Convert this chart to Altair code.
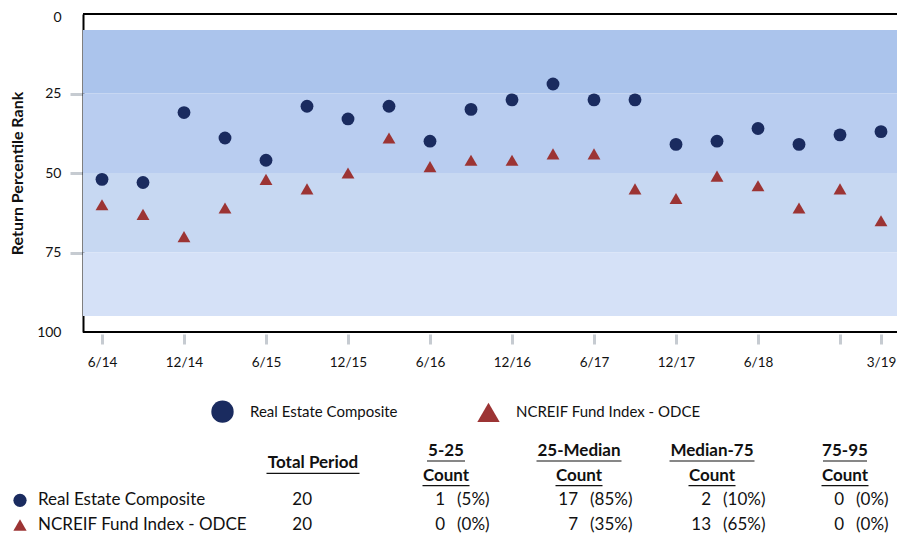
import altair as alt
import pandas as pd

# ---------------- data ----------------
QUARTERS = ["6/14", "9/14", "12/14", "3/15", "6/15", "9/15", "12/15", "3/16", "6/16", "9/16",
            "12/16", "3/17", "6/17", "9/17", "12/17", "3/18", "6/18", "9/18", "12/18", "3/19"]
COMPOSITE = [52, 53, 31, 39, 46, 29, 33, 29, 40, 30, 27, 22, 27, 27, 41, 40, 36, 41, 38, 37]
ODCE = [60, 63, 70, 61, 52, 55, 50, 39, 48, 46, 46, 44, 44, 55, 58, 51, 54, 61, 55, 65]
SERIES = ["Real Estate Composite", "NCREIF Fund Index - ODCE"]

BAND_NAMES = ["5-25", "25-Median", "Median-75", "75-95"]
BAND_LOW = [5, 25, 50, 75]
BAND_HIGH = [25, 50, 75, 95]

TICK_QUARTERS = ["6/14", "12/14", "6/15", "12/15", "6/16", "12/16", "6/17", "12/17", "6/18", "12/18", "3/19"]
UNLABELED_TICK = "12/18"
Y_TICKS = [0, 25, 50, 75, 100]
Y_FRAME = [0, 100]

TABLE_COLUMNS = ["Total Period", "5-25", "25-Median", "Median-75", "75-95"]
TOTALS = [20, 20]
COUNTS = [[1, 17, 2, 0], [0, 7, 13, 0]]
PCTS = [["5%", "85%", "10%", "0%"], ["0%", "35%", "65%", "0%"]]

# ---------------- style / layout ----------------
FONT = "Lato"
SERIES_COLORS = ["#1a2b5f", "#9c3434"]
SERIES_SHAPES = ["circle", "triangle-up"]
BAND_COLORS = ["#abc4ec", "#b9cdf0", "#c7d8f2", "#d5e1f7"]
TICK_GRAY = "#c6cbd1"
TEXT = "#111111"
UNDERLINE_W = {"Total Period": 93, "5-25": 38, "25-Median": 85, "Median-75": 85, "75-95": 44, "Count": 47}

PLOT_W, PLOT_H = 814, 318
X_RANGE = [19, 798]            # first / last quarter inside the plot
TABLE_X_RANGE = [230, 762]     # column centres, relative to the plot origin
TABLE_Y_RANGE = [437, 511]     # header line 1 ... second series row
MARKER_X, NAME_X = -63, -45

# ---------------- plot ----------------
points_df = pd.DataFrame({
    "quarter": QUARTERS * 2,
    "rank": COMPOSITE + ODCE,
    "series": [SERIES[0]] * len(QUARTERS) + [SERIES[1]] * len(QUARTERS),
})
bands_df = pd.DataFrame({"band": BAND_NAMES, "lo": BAND_LOW, "hi": BAND_HIGH})
frame_df = pd.DataFrame({"edge": Y_FRAME})

y_scale = alt.Scale(domain=[0, 100], reverse=True, nice=False, zero=False)
y_axis = alt.Axis(
    values=Y_TICKS, title="Return Percentile Rank", titleFont=FONT, titleFontSize=16,
    titleFontWeight="bold", titleColor=TEXT, titlePadding=11,
    labelFont=FONT, labelFontSize=14, labelColor=TEXT, labelPadding=9,
    labelOffset={"condition": {"test": "datum.value == 0", "value": 3}, "value": 0},
    domain=True, domainColor="#000000", domainWidth=2, grid=False,
    tickSize=13, tickWidth=3, tickColor=TICK_GRAY,
    tickOpacity={"condition": {"test": "datum.value == 0 || datum.value == 100", "value": 0}, "value": 1},
)
x_axis = alt.Axis(
    values=TICK_QUARTERS, title=None,
    labelExpr=f"datum.value == '{UNLABELED_TICK}' ? '' : datum.value",
    labelFont=FONT, labelFontSize=13.5, labelColor=TEXT, labelPadding=11, labelAngle=0,
    domain=False, grid=False, offset=2, tickSize=10, tickWidth=3, tickColor=TICK_GRAY,
)

bands = alt.Chart(bands_df).mark_rect().encode(
    y=alt.Y("lo:Q", scale=y_scale, axis=y_axis),
    y2="hi:Q",
    fill=alt.Fill("band:N", scale=alt.Scale(domain=BAND_NAMES, range=BAND_COLORS), legend=None),
)
frame = alt.Chart(frame_df).mark_rule(color="#000000", strokeWidth=2).encode(
    y=alt.Y("edge:Q", scale=y_scale)
)

legend = alt.Legend(
    title=None, orient="none", legendX=128, legendY=386, direction="horizontal",
    symbolSize=500, symbolStrokeWidth=0, labelFont=FONT, labelFontSize=15, labelColor=TEXT,
    labelOffset=16, columnPadding=79, labelLimit=400,
)
points = alt.Chart(points_df).mark_point(filled=True, opacity=1, size=165).encode(
    x=alt.X("quarter:N", sort=QUARTERS,
            scale=alt.Scale(type="point", domain=QUARTERS, range=X_RANGE, padding=0), axis=x_axis),
    y=alt.Y("rank:Q", scale=y_scale),
    color=alt.Color("series:N", scale=alt.Scale(domain=SERIES, range=SERIES_COLORS), legend=legend),
    shape=alt.Shape("series:N", scale=alt.Scale(domain=SERIES, range=SERIES_SHAPES), legend=legend),
)

plot = alt.layer(bands, frame, points)

# ---------------- table ----------------
hdr_rows = []
for c in TABLE_COLUMNS:
    if c == "Total Period":
        hdr_rows.append({"col": c, "row": 0.5, "text": c})
    else:
        hdr_rows.append({"col": c, "row": 0, "text": c})
        hdr_rows.append({"col": c, "row": 1, "text": "Count"})
hdr_df = pd.DataFrame(hdr_rows)
hdr_df["w"] = hdr_df["text"].map(UNDERLINE_W)

num_rows, pct_rows, name_rows = [], [], []
for i, s in enumerate(SERIES):
    r = 2 + i
    name_rows.append({"series": s, "row": r})
    num_rows.append({"col": TABLE_COLUMNS[0], "row": r, "text": str(TOTALS[i])})
    for j, c in enumerate(TABLE_COLUMNS[1:]):
        num_rows.append({"col": c, "row": r, "text": str(COUNTS[i][j])})
        pct_rows.append({"col": c, "row": r, "text": f"({PCTS[i][j]})"})
num_df = pd.DataFrame(num_rows)
pct_df = pd.DataFrame(pct_rows)
name_df = pd.DataFrame(name_rows)

tx = alt.X("col:N", sort=TABLE_COLUMNS, axis=None,
           scale=alt.Scale(type="point", domain=TABLE_COLUMNS, range=TABLE_X_RANGE, padding=0))
ty = alt.Y("row:Q", axis=None,
           scale=alt.Scale(domain=[0, 3], range=TABLE_Y_RANGE, nice=False, zero=False))

hdr_text = alt.Chart(hdr_df).mark_text(
    font=FONT, fontSize=17, fontWeight="bold", color=TEXT, baseline="middle", align="center"
).encode(x=tx, y=ty, text="text:N")
hdr_line = alt.Chart(hdr_df).mark_tick(thickness=1.2, color=TEXT, yOffset=10, opacity=1).encode(
    x=tx, y=ty, size=alt.Size("w:Q", scale=None)
)
num_text = alt.Chart(num_df).mark_text(
    font=FONT, fontSize=17, color=TEXT, baseline="middle", align="right", dx=-1
).encode(x=tx, y=ty, text="text:N")
pct_text = alt.Chart(pct_df).mark_text(
    font=FONT, fontSize=17, color=TEXT, baseline="middle", align="left", dx=11
).encode(x=tx, y=ty, text="text:N")
markers = alt.Chart(name_df).mark_point(filled=True, opacity=1, size=175).encode(
    x=alt.value(MARKER_X), y=ty,
    color=alt.Color("series:N", scale=alt.Scale(domain=SERIES, range=SERIES_COLORS), legend=None),
    shape=alt.Shape("series:N", scale=alt.Scale(domain=SERIES, range=SERIES_SHAPES), legend=None),
)
names = alt.Chart(name_df).mark_text(
    font=FONT, fontSize=17, color=TEXT, baseline="middle", align="left"
).encode(x=alt.value(NAME_X), y=ty, text="series:N")

table = alt.layer(hdr_text, hdr_line, num_text, pct_text, markers, names)

chart = alt.layer(plot, table).resolve_scale(
    x="independent", y="independent", color="independent", shape="independent"
).properties(
    width=PLOT_W, height=PLOT_H,
    autosize=alt.AutoSizeParams(type="none"),
    padding={"left": 75, "top": 6, "right": 0, "bottom": 204},
).configure_view(stroke=None)

chart.save("out.html", embed_options={"renderer": "svg", "actions": False})
